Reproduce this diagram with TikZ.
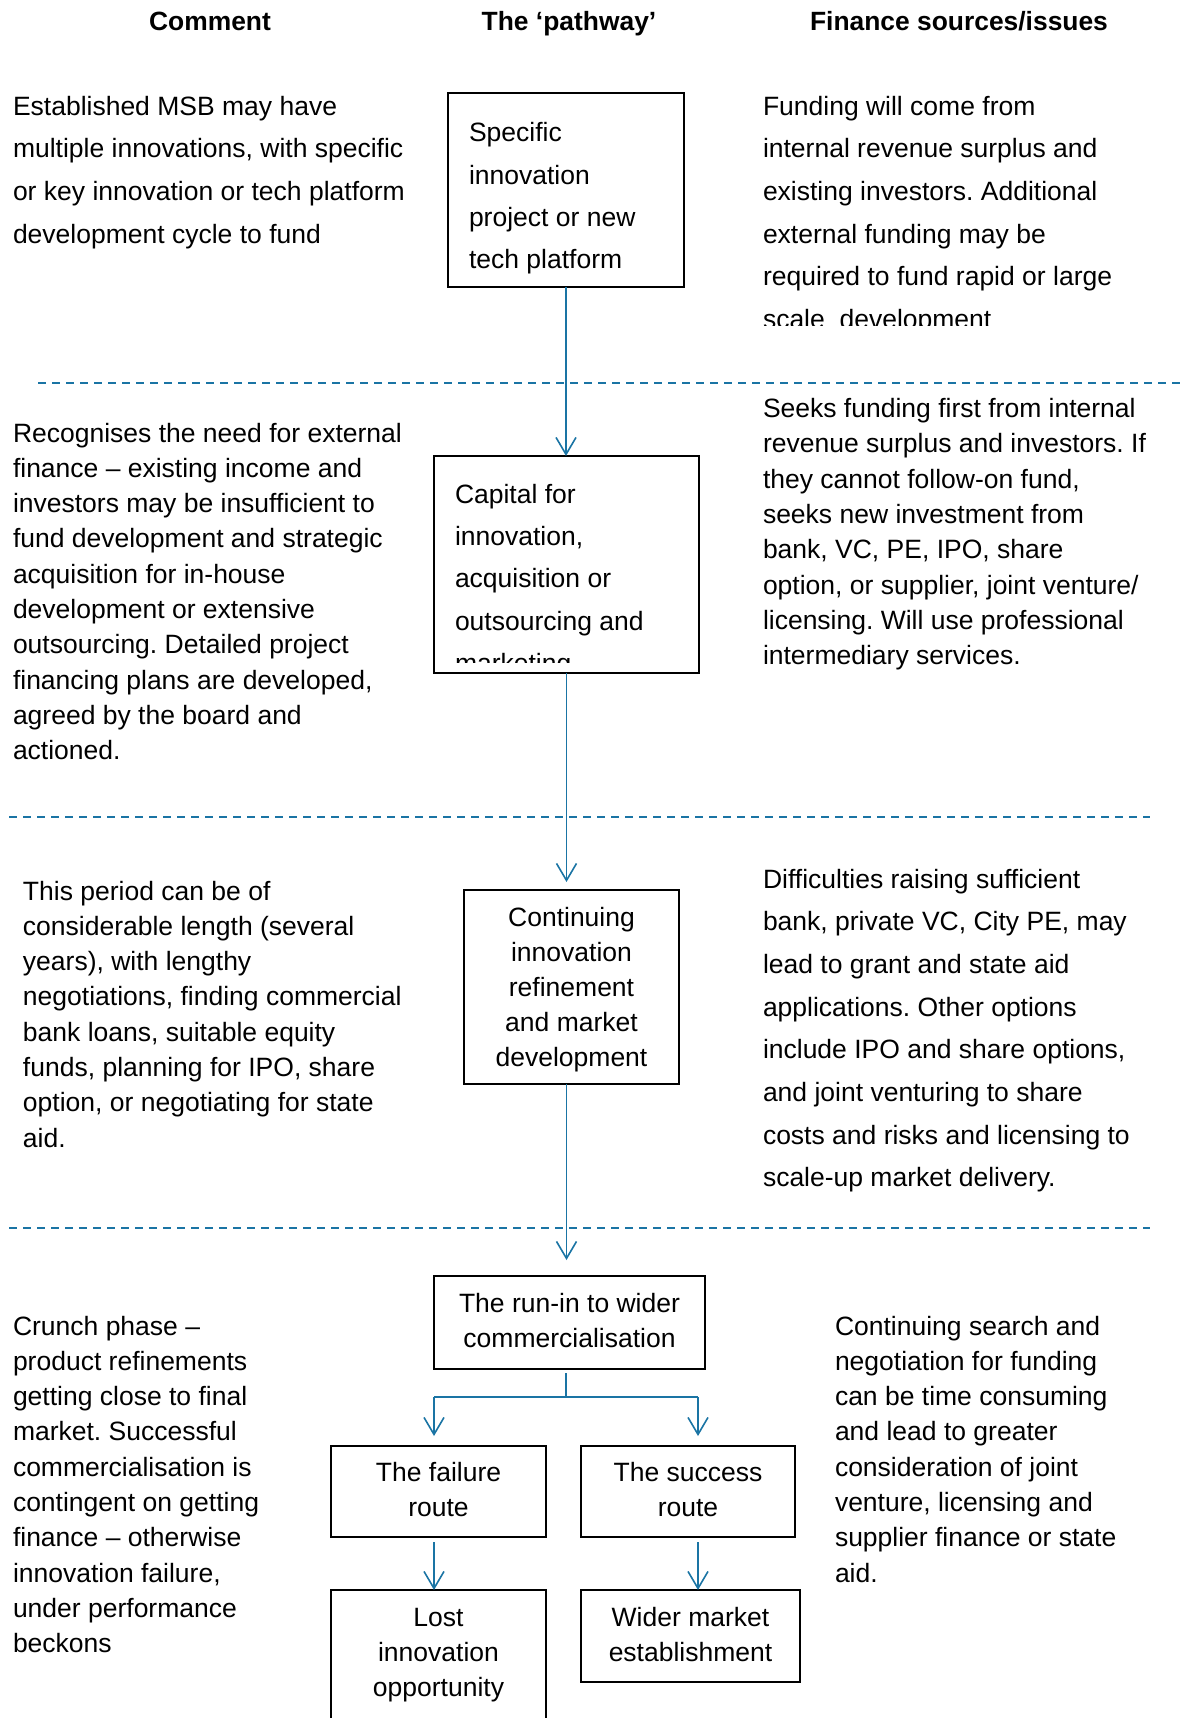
\documentclass[tikz,border=0pt]{standalone}
\usepackage{fontspec}
\setmainfont{Liberation Sans}
\usetikzlibrary{arrows.meta}
\definecolor{flowblue}{RGB}{26,116,164}
\frenchspacing
\tikzset{
  every node/.style={inner sep=0pt, outer sep=0pt},
  % multi-line texts are anchored at the baseline of their last line
  txt/.style={anchor=base west, align=left, font=\fontsize{26.5}{35.3}\selectfont},
  txtwide/.style={anchor=base west, align=left, font=\fontsize{26.5}{42.7}\selectfont},
  boxtxt/.style={anchor=base west, align=left, font=\fontsize{26.5}{42.4}\selectfont},
  ctxt/.style={anchor=base, align=center, font=\fontsize{26.5}{35}\selectfont},
  head/.style={anchor=base, font=\fontsize{26.4}{30}\selectfont\bfseries},
  stage/.style={draw=black, line width=2pt, rectangle},
  flow/.style={draw=flowblue, line width=1.6pt},
  arr/.style={flow, -{Straight Barb[length=17pt,width=20pt]}},
  sep/.style={draw=flowblue, line width=2pt, dash pattern=on 8pt off 6pt}
}
\begin{document}
\begin{tikzpicture}[x=1pt, y=-1pt]
\useasboundingbox (0,0) rectangle (1182,1718);

% column headings
\node[head] (h1) at (210,31) {Comment};
\node[head] (h2) at (569,31) {The ‘pathway’};
\node[head] (h3) at (959,31) {Finance sources/issues};

% stage boxes
\node[stage, minimum width=236pt, minimum height=194pt] (b1) at (566,190) {};
\node[stage, minimum width=265pt, minimum height=217pt] (b2) at (566.5,564.5) {};
\node[stage, minimum width=215pt, minimum height=194pt] (b3) at (571.5,987) {};
\node[stage, minimum width=271pt, minimum height=93pt] (b4) at (569.5,1322.5) {};
\node[stage, minimum width=215pt, minimum height=91pt] (fail) at (438.5,1491.5) {};
\node[stage, minimum width=214pt, minimum height=91pt] (succ) at (688,1491.5) {};
\node[stage, minimum width=215pt, minimum height=160pt] (lost) at (438.5,1670) {};
\node[stage, minimum width=219pt, minimum height=92pt] (wider) at (690.5,1636) {};

% texts inside the boxes
\node[boxtxt] (t1) at (469,268.9) {Specific\\innovation\\project or new\\tech platform};
\begin{scope}
  \clip (436,458) rectangle (697,662);
  \node[boxtxt] (t2) at (455,672.6) {Capital for\\innovation,\\acquisition or\\outsourcing and\\marketing};
\end{scope}
\node[ctxt] (t3) at (571.5,1066.5) {Continuing\\innovation\\refinement\\and market\\development};
\node[ctxt, font=\fontsize{26.5}{34.5}\selectfont] (t4) at (569.5,1347) {The run-in to wider\\commercialisation};
\node[ctxt] (tf) at (438.5,1516.5) {The failure\\route};
\node[ctxt] (ts) at (688,1516.5) {The success\\route};
\node[ctxt] (tl) at (438.5,1696.7) {Lost\\innovation\\opportunity};
\node[ctxt] (tw) at (690.5,1661.7) {Wider market\\establishment};

% section separators
\draw[sep] (38,383) -- (1182,383);
\draw[sep] (9,817) -- (1150,817);
\draw[sep] (9,1228) -- (1150,1228);

% comment column
\node[txtwide] (c1) at (13,243.1) {Established MSB may have\\multiple innovations, with specific\\or key innovation or tech platform\\development cycle to fund};
\node[txt] (c2) at (13,759.7) {Recognises the need for external\\finance – existing income and\\investors may be insufficient to\\fund development and strategic\\acquisition for in-house\\development or extensive\\outsourcing. Detailed project\\financing plans are developed,\\agreed by the board and\\actioned.};
\node[txt] (c3) at (23,1147.1) {This period can be of\\considerable length (several\\years), with lengthy\\negotiations, finding commercial\\bank loans, suitable equity\\funds, planning for IPO, share\\option, or negotiating for state\\aid.};
\node[txt] (c4) at (13,1652.7) {Crunch phase –\\product refinements\\getting close to final\\market. Successful\\commercialisation is\\contingent on getting\\finance – otherwise\\innovation failure,\\under performance\\beckons};

% finance column
\begin{scope}
  \clip (700,60) rectangle (1182,325);
  \node[txtwide] (f1) at (763,328.5) {Funding will come from\\internal revenue surplus and\\existing investors. Additional\\external funding may be\\required to fund rapid or large\\scale~ development};
\end{scope}
\node[txt] (f2) at (763,664.6) {Seeks funding first from internal\\revenue surplus and investors. If\\they cannot follow-on fund,\\seeks new investment from\\bank, VC, PE, IPO, share\\option, or supplier, joint venture/\\licensing. Will use professional\\intermediary services.};
\node[txtwide] (f3) at (763,1186.9) {Difficulties raising sufficient\\bank, private VC, City PE, may\\lead to grant and state aid\\applications. Other options\\include IPO and share options,\\and joint venturing to share\\costs and risks and licensing to\\scale-up market delivery.};
\node[txt] (f4) at (835,1582.1) {Continuing search and\\negotiation for funding\\can be time consuming\\and lead to greater\\consideration of joint\\venture, licensing and\\supplier finance or state\\aid.};

% pathway connectors
\draw[arr] (b1.south) -- (b1.south |- b2.north);
\draw[arr, shorten >=8pt] (b2.south) -- (b2.south |- b3.north);
\draw[arr, shorten >=16pt] (b3.south -| b2.south) -- (b2.south |- b4.north);
\coordinate (split) at (566,1397);
\coordinate (bl) at (434,1397);
\coordinate (br) at (698,1397);
\draw[flow] ([yshift=-4pt]b4.south -| split) -- (split);
\draw[flow] (bl) -- (br);
\draw[arr, shorten >=10pt] (bl) -- (bl |- fail.north);
\draw[arr, shorten >=10pt] (br) -- (br |- succ.north);
\draw[arr] ([yshift=-5pt]fail.south -| bl) -- (bl |- lost.north);
\draw[arr] ([yshift=-5pt]succ.south -| br) -- (br |- wider.north);
\end{tikzpicture}
\end{document}
